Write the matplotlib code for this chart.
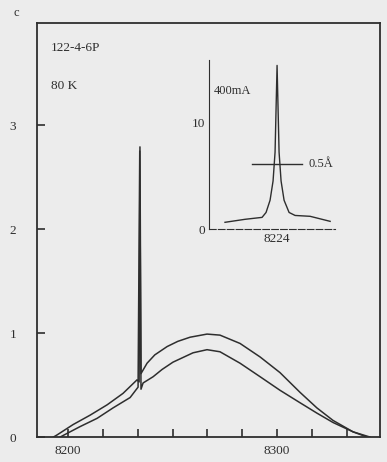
import matplotlib.pyplot as plt

# main spectrum, upper trace (wavelength in A, intensity)
upper_wl = [8193.0, 8194.7, 8202.4, 8210.5, 8218.7, 8226.3, 8233.0, 8234.0, 8234.4,
            8234.9, 8237.8, 8241.5, 8247.4, 8252.5, 8258.4, 8266.5, 8272.7, 8282.3,
            8291.9, 8301.4, 8311.0, 8319.1, 8326.8, 8336.4, 8344.5]
upper_val = [0.0, 0.02, 0.12, 0.21, 0.31, 0.42, 0.55, 0.53, 2.79,
             0.61, 0.71, 0.79, 0.87, 0.92, 0.96, 0.99, 0.98, 0.90,
             0.77, 0.62, 0.43, 0.28, 0.16, 0.05, 0.0]

# main spectrum, lower trace
lower_wl = [8196.2, 8205.7, 8213.9, 8221.5, 8229.7, 8233.5, 8234.3, 8234.9, 8235.9,
            8240.7, 8245.0, 8250.2, 8259.8, 8266.5, 8272.7, 8282.3, 8291.9, 8301.4,
            8311.0, 8319.1, 8326.8, 8336.4, 8343.1]
lower_val = [0.0, 0.10, 0.18, 0.28, 0.38, 0.48, 2.75, 0.46, 0.52,
             0.58, 0.65, 0.72, 0.81, 0.84, 0.82, 0.71, 0.58, 0.45,
             0.33, 0.23, 0.14, 0.05, 0.0]

# inset: the 8224 A line at 400 mA
inset_wl = [8223.48, 8223.68, 8223.85, 8223.89, 8223.93, 8223.96, 8223.98, 8224.0,
            8224.02, 8224.04, 8224.07, 8224.12, 8224.18, 8224.33, 8224.53]
inset_val = [0.64, 0.92, 1.1, 1.56, 2.7, 4.5, 7.2, 15.3,
             7.2, 4.5, 2.7, 1.56, 1.28, 1.2, 0.73]

x_ticks = [8200, 8216.7, 8233.3, 8250, 8266.7, 8283.3, 8300, 8316.7, 8333.3]
x_labels = ['8200', '', '', '', '', '', '8300', '', '']
y_ticks = [0, 1, 2, 3]

ink = '#2e2e2e'
bg = '#ececec'
plt.rcParams['font.family'] = ['Liberation Serif', 'DejaVu Serif']

fig = plt.figure(figsize=(3.87, 4.62), dpi=100, facecolor=bg)
ax = fig.add_axes([0.096, 0.054, 0.886, 0.896])
ax.set_facecolor(bg)
ax.plot(upper_wl, upper_val, color=ink, lw=1.1)
ax.plot(lower_wl, lower_val, color=ink, lw=1.1)
ax.set_xlim(8185.2, 8349.3)
ax.set_ylim(0, 3.98)
ax.set_xticks(x_ticks)
ax.set_xticklabels(x_labels)
ax.set_yticks(y_ticks)
ax.tick_params(direction='in', length=6, width=1.2, color=ink, labelsize=9.5,
               labelcolor=ink, pad=6)
ax.tick_params(axis='y', pad=15)
for s in ax.spines.values():
    s.set_color(ink)
    s.set_linewidth(1.3)

ax.text(0.04, 0.955, '122-4-6P', transform=ax.transAxes, fontsize=9.5, color=ink,
        va='top')
ax.text(0.04, 0.862, '80 K', transform=ax.transAxes, fontsize=9.5, color=ink,
        va='top')
fig.text(0.035, 0.965, 'c', fontsize=9, color=ink)

# inset
ins = fig.add_axes([0.540, 0.504, 0.326, 0.366])
ins.patch.set_alpha(0)
ins.plot(inset_wl, inset_val, color=ink, lw=1.0)
ins.set_xlim(8223.32, 8224.58)
ins.set_ylim(0, 15.8)
ins.spines['top'].set_visible(False)
ins.spines['right'].set_visible(False)
ins.spines['left'].set_color(ink)
ins.spines['bottom'].set_color(ink)
ins.spines['bottom'].set_linestyle((0, (6, 2)))
ins.spines['bottom'].set_linewidth(0.8)
ins.set_xticks([8224])
ins.set_xticklabels(['8224'])
ins.set_yticks([0, 10])
ins.tick_params(length=0, labelsize=9.5, labelcolor=ink, pad=3)
ins.plot([8223.75, 8224.25], [6.1, 6.1], color=ink, lw=1.0)
ins.text(8224.31, 6.1, '0.5Å', fontsize=9, color=ink, va='center')
ins.text(8223.37, 12.9, '400mA', fontsize=9, color=ink, va='center')

fig.savefig('out.png', dpi=100, facecolor=bg)
